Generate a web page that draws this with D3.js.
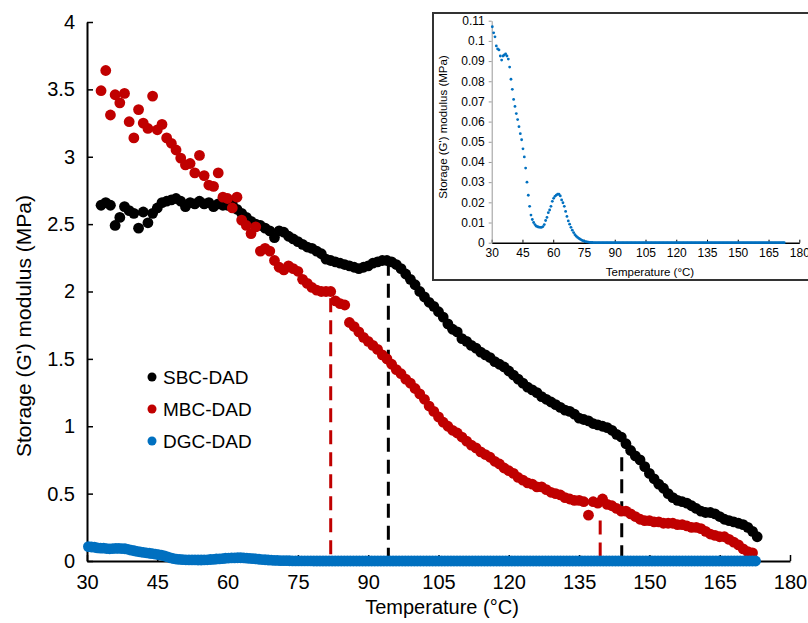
<!DOCTYPE html>
<html><head><meta charset="utf-8">
<script src="https://cdn.jsdelivr.net/npm/d3@7"></script>
<style>
html,body{margin:0;padding:0;background:#fff;}
svg{display:block;font-family:"Liberation Sans",Arial,Helvetica,sans-serif;}
</style></head>
<body>
<svg id="chart" width="808" height="623"></svg>
<script>
// ---------------- DATA ----------------
const seriesNames = ["SBC-DAD", "MBC-DAD", "DGC-DAD"];
const xTicks = [30, 45, 60, 75, 90, 105, 120, 135, 150, 165, 180];
const yTicks = [0, 0.5, 1, 1.5, 2, 2.5, 3, 3.5, 4];
const insetYTicks = [0, 0.01, 0.02, 0.03, 0.04, 0.05, 0.06, 0.07, 0.08, 0.09, 0.1, 0.11];

// SBC-DAD: temperatures 33..173 °C, 1 °C steps
const sbcStartT = 33, sbcStepT = 1;
const sbcValues = [2.64,2.66,2.64,2.49,2.55,2.63,2.60,2.58,2.47,2.59,2.51,2.58,2.62,2.66,2.67,2.68,2.69,2.67,2.63,2.66,
2.65,2.67,2.65,2.66,2.63,2.65,2.64,2.64,2.65,2.61,2.58,2.55,2.52,2.50,2.49,2.47,2.45,2.40,2.45,2.44,
2.41,2.39,2.37,2.35,2.33,2.32,2.30,2.28,2.24,2.23,2.22,2.21,2.20,2.19,2.18,2.17,2.18,2.19,2.21,2.22,
2.23,2.23,2.22,2.20,2.17,2.13,2.09,2.05,2.00,1.96,1.92,1.89,1.85,1.81,1.76,1.72,1.70,1.65,1.63,1.60,
1.58,1.55,1.53,1.51,1.48,1.46,1.44,1.41,1.38,1.35,1.32,1.29,1.27,1.25,1.22,1.20,1.18,1.16,1.14,1.12,
1.11,1.09,1.06,1.05,1.04,1.02,1.01,1.00,0.99,0.97,0.94,0.92,0.87,0.82,0.78,0.75,0.70,0.65,0.61,0.57,
0.54,0.50,0.47,0.45,0.44,0.43,0.41,0.39,0.37,0.36,0.36,0.35,0.33,0.31,0.30,0.29,0.28,0.27,0.25,0.22,0.18];

// MBC-DAD: temperatures 33..172 °C, 1 °C steps
const mbcStartT = 33, mbcStepT = 1;
const mbcValues = [3.49,3.64,3.31,3.46,3.40,3.47,3.26,3.14,3.35,3.25,3.21,3.45,3.20,3.24,3.14,3.10,3.05,2.99,2.94,2.95,
2.88,3.01,2.86,2.79,2.78,2.88,2.70,2.69,2.62,2.70,2.53,2.49,2.43,2.48,2.30,2.32,2.30,2.23,2.18,2.16,
2.19,2.17,2.15,2.09,2.06,2.03,2.01,2.00,2.00,2.00,1.93,1.91,1.90,1.77,1.74,1.70,1.66,1.63,1.60,1.57,
1.53,1.50,1.46,1.42,1.39,1.35,1.32,1.28,1.24,1.20,1.15,1.11,1.07,1.03,1.00,0.97,0.95,0.92,0.89,0.86,
0.84,0.81,0.79,0.77,0.74,0.72,0.69,0.67,0.65,0.62,0.60,0.58,0.57,0.55,0.55,0.53,0.51,0.50,0.49,0.47,
0.46,0.45,0.45,0.44,0.34,0.44,0.43,0.46,0.42,0.41,0.39,0.37,0.37,0.35,0.33,0.31,0.30,0.30,0.29,0.29,
0.28,0.28,0.28,0.27,0.27,0.26,0.25,0.25,0.24,0.22,0.20,0.19,0.18,0.18,0.16,0.14,0.12,0.09,0.07,0.06];

// DGC-DAD: temperatures from 30.3 °C, 0.65 °C steps
const dgcStartT = 30.3, dgcStepT = 0.65;
const dgcValues = [0.107,0.104,0.102,0.0975,0.096,0.0955,0.0925,0.0905,0.0925,0.093,
0.0935,0.0925,0.091,0.087,0.081,0.076,0.071,0.0675,0.064,0.061,
0.0575,0.054,0.051,0.0465,0.0425,0.037,0.030,0.0235,0.018,0.0137,
0.0115,0.0100,0.0090,0.0082,0.0079,0.0077,0.0076,0.0076,0.0080,0.0090,
0.0110,0.0125,0.0149,0.0162,0.0180,0.0205,0.0220,0.0230,0.0236,0.0240,
0.0240,0.0232,0.0212,0.0198,0.0180,0.0155,0.0130,0.0108,0.0092,0.0076,
0.0062,0.0050,0.0040,0.0032,0.0026,0.0021,0.0017,0.0013,0.0010,0.0007,
0.0005,0.0004,0.0003,0.0002,0.0001,0.0001,
0,0,0,0,0,0,0,0,0,0,0,0,0,0,0,0,0,0,0,0,0,0,0,0,
0,0,0,0,0,0,0,0,0,0,0,0,0,0,0,0,0,0,0,0,0,0,0,0,
0,0,0,0,0,0,0,0,0,0,0,0,0,0,0,0,0,0,0,0,0,0,0,0,
0,0,0,0,0,0,0,0,0,0,0,0,0,0,0,0,0,0,0,0,0,0,0,0,
0,0,0,0,0,0,0,0,0,0,0,0,0,0,0,0,0,0,0,0,0,0,0,0,
0,0,0,0,0,0,0,0,0,0,0,0,0,0,0,0,0,0,0,0,0,0,0,0];

// Dashed transition markers
const markerSeries = ["MBC-DAD", "SBC-DAD", "MBC-DAD", "SBC-DAD"];
const markerTemps = [82, 94.3, 139.5, 144.1];
const markerTops = [1.95, 2.22, 0.30, 0.77];

// ---------------- DRAW ----------------
const colors = {"SBC-DAD": "#000000", "MBC-DAD": "#C00000", "DGC-DAD": "#0070C0"};
const toPoints = (start, step, vals) => vals.map((v, i) => ({t: start + i * step, v}));
const series = {
  "SBC-DAD": toPoints(sbcStartT, sbcStepT, sbcValues),
  "MBC-DAD": toPoints(mbcStartT, mbcStepT, mbcValues),
  "DGC-DAD": toPoints(dgcStartT, dgcStepT, dgcValues)
};

const svg = d3.select("#chart");
const x = d3.scaleLinear().domain([30, 180]).range([87, 790]);
const y = d3.scaleLinear().domain([0, 4]).range([561, 22]);

// dashed markers
svg.append("g").selectAll("line").data(markerTemps).join("line")
  .attr("x1", d => x(d)).attr("x2", d => x(d))
  .attr("y1", (d, i) => y(markerTops[i])).attr("y2", y(0))
  .attr("stroke", (d, i) => colors[markerSeries[i]])
  .attr("stroke-width", 3).attr("stroke-dasharray", "14,8");

// axes
const xAxis = svg.append("g").attr("transform", `translate(0,${y(0)})`)
  .call(d3.axisBottom(x).tickValues(xTicks).tickSizeInner(-6).tickSizeOuter(0).tickPadding(14).tickFormat(d => d));
const yAxis = svg.append("g").attr("transform", `translate(${x(30)},0)`)
  .call(d3.axisLeft(y).tickValues(yTicks).tickSizeInner(-6).tickSizeOuter(0).tickPadding(12).tickFormat(d => d));
[xAxis, yAxis].forEach(g => {
  g.select(".domain").attr("stroke", "#000").attr("stroke-width", 2);
  g.selectAll(".tick line").attr("stroke", "#000").attr("stroke-width", 1.5);
  g.selectAll(".tick text").attr("font-size", 20).attr("fill", "#000")
    .attr("font-family", '"Liberation Sans",Arial,Helvetica,sans-serif');
});

// dots
seriesNames.forEach(name => {
  svg.append("g").selectAll("circle").data(series[name]).join("circle")
    .attr("cx", d => x(d.t)).attr("cy", d => y(d.v)).attr("r", 5.4)
    .attr("fill", colors[name]);
});

// axis titles
svg.append("text").attr("x", 442).attr("y", 614).attr("text-anchor", "middle")
  .attr("font-size", 20).text("Temperature (°C)");
svg.append("text").attr("transform", "translate(31,326) rotate(-90)").attr("text-anchor", "middle")
  .attr("font-size", 21).text("Storage (G') modulus (MPa)");

// legend
const legendY = [377, 409, 441];
const legend = svg.append("g");
seriesNames.forEach((name, i) => {
  legend.append("circle").attr("cx", 152).attr("cy", legendY[i]).attr("r", 4.5).attr("fill", colors[name]);
  legend.append("text").attr("x", 163).attr("y", legendY[i]).attr("dy", "0.35em")
    .attr("font-size", 19).text(name);
});

// ---------------- INSET ----------------
const inset = svg.append("g");
inset.append("rect").attr("x", 433).attr("y", 13).attr("width", 390).attr("height", 267)
  .attr("fill", "#fff").attr("stroke", "#333").attr("stroke-width", 2);
const ix = d3.scaleLinear().domain([30, 180]).range([491.7, 799.3]);
const iy = d3.scaleLinear().domain([0, 0.11]).range([242.7, 20.7]);
const ixAxis = inset.append("g").attr("transform", `translate(0,${iy(0)})`)
  .call(d3.axisBottom(ix).tickValues(xTicks).tickSizeInner(-3).tickSizeOuter(0).tickPadding(6).tickFormat(d => d));
const iyAxis = inset.append("g").attr("transform", `translate(${ix(30)},0)`)
  .call(d3.axisLeft(iy).tickValues(insetYTicks).tickSizeInner(3).tickSizeOuter(0).tickPadding(4).tickFormat(d => d));
ixAxis.select(".domain").attr("stroke", "#000").attr("stroke-width", 1.5);
iyAxis.select(".domain").attr("stroke", "#999").attr("stroke-width", 1);
ixAxis.selectAll(".tick line").attr("stroke", "#000");
iyAxis.selectAll(".tick line").attr("stroke", "#999");
[ixAxis, iyAxis].forEach(g => g.selectAll(".tick text").attr("font-size", 12).attr("fill", "#000")
  .attr("font-family", '"Liberation Sans",Arial,Helvetica,sans-serif'));
inset.append("g").selectAll("circle").data(series["DGC-DAD"]).join("circle")
  .attr("cx", d => ix(d.t)).attr("cy", d => iy(d.v)).attr("r", 1.4)
  .attr("fill", colors["DGC-DAD"]);
inset.append("text").attr("x", 650).attr("y", 276).attr("text-anchor", "middle")
  .attr("font-size", 11.5).text("Temperature (°C)");
inset.append("text").attr("transform", "translate(447,127) rotate(-90)").attr("text-anchor", "middle")
  .attr("font-size", 11.5).text("Storage (G') modulus (MPa)");
</script>
</body></html>
